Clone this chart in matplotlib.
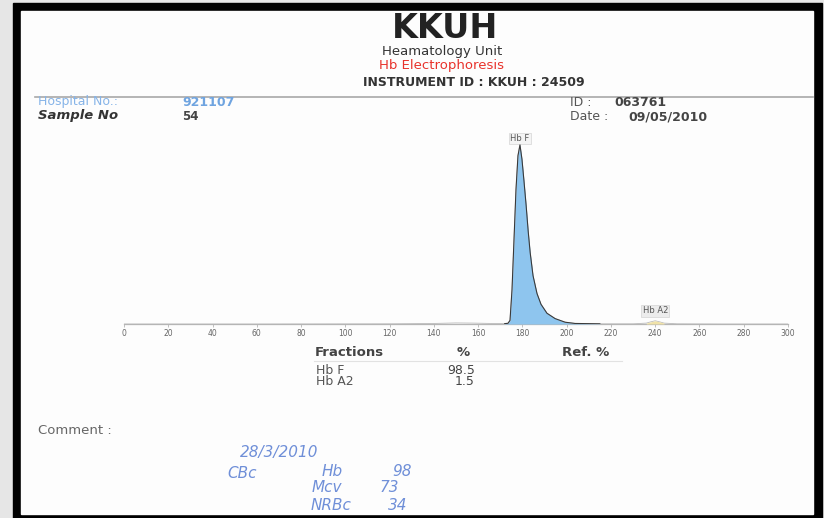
import matplotlib.pyplot as plt
from matplotlib.patches import Rectangle

# Electrophoresis trace (migration position vs. relative signal)
migration = [0, 60, 120, 140, 150, 158, 166, 172, 173.5, 174.4, 175.3, 176.2,
             177.1, 178.0, 178.9, 179.8, 180.7, 181.7, 182.6, 183.5, 184.8,
             186.6, 188.4, 191.1, 194.8, 199.3, 203.8, 215, 230, 236, 238,
             240, 242, 244, 250, 270, 300]
signal = [0, 0, 0.1, 0.3, 0.6, 0.5, 0.3, 0.2, 0.4, 2, 19, 47,
          75, 94, 100, 92, 80, 66, 52, 40, 27,
          17, 11, 6, 3, 1, 0.3, 0.1, 0.1, 0.5, 1.2,
          1.8, 1.2, 0.5, 0.1, 0, 0]
xticks = list(range(0, 301, 20))

# Fraction results
fractions = ["Hb F", "Hb A2"]
percents = [98.5, 1.5]
peak_pos = [178.9, 240]

# Header / patient fields
title = "KKUH"
unit = "Heamatology Unit"
test_name = "Hb Electrophoresis"
instrument = "INSTRUMENT ID : KKUH : 24509"
hospital_no = "921107"
sample_no = "54"
sample_id = "063761"
sample_date = "09/05/2010"

# handwritten notes, one entry per word
note_words = ["28/3/2010", "CBc", "Hb", "98", "Mcv", "73", "NRBc", "34"]

W, H = 824, 518
fig = plt.figure(figsize=(W / 100, H / 100), dpi=100, facecolor="#e6e6e6")
plt.rcParams["font.family"] = "DejaVu Sans"

# page layer in pixel coordinates
bg = fig.add_axes([0, 0, 1, 1])
bg.set_xlim(0, W)
bg.set_ylim(H, 0)
bg.axis("off")
bg.add_patch(Rectangle((13, 3), 809, 515, color="black", zorder=0))
bg.add_patch(Rectangle((21, 11), 792, 503, color="#fdfdfd", zorder=1))

dark = "#333333"
bg.text(445, 29, title, ha="center", va="center", fontsize=24, fontweight="bold", color="#222222")
bg.text(442, 51, unit, ha="center", va="center", fontsize=9.5, color=dark)
bg.text(442, 65, test_name, ha="center", va="center", fontsize=9.5, color="#e8322b")
bg.text(474, 82, instrument, ha="center", va="center", fontsize=9, fontweight="bold", color=dark)
bg.plot([35, 813], [97, 97], color="#a8a8a8", lw=1.2)

bg.text(38, 102, "Hospital No.:", va="center", fontsize=9, color="#86b4e8")
bg.text(182, 102, hospital_no, va="center", fontsize=9, fontweight="bold", color="#6fa4e0")
bg.text(38, 115, "Sample No", va="center", fontsize=9.5, fontweight="bold", fontstyle="italic", color=dark)
bg.text(182, 116, sample_no, va="center", fontsize=8.5, fontweight="bold", color="#444444")
bg.text(570, 103, "ID :", va="center", fontsize=9, color="#555555")
bg.text(614, 103, sample_id, va="center", fontsize=9, fontweight="bold", color="#444444")
bg.text(570, 117, "Date :", va="center", fontsize=9, color="#555555")
bg.text(628, 117, sample_date, va="center", fontsize=9, fontweight="bold", color="#444444")

# fractions table
bg.text(315, 353, "Fractions", va="center", fontsize=9.5, fontweight="bold", color="#444444")
bg.text(457, 353, "%", va="center", fontsize=9.5, fontweight="bold", color="#444444")
bg.text(562, 353, "Ref. %", va="center", fontsize=9.5, fontweight="bold", color="#444444")
bg.plot([314, 622], [361, 361], color="#e2e2e2", lw=0.8)
for i, (name, pct) in enumerate(zip(fractions, percents)):
    y = 370 + i * 11.5
    bg.text(316, y, name, va="center", fontsize=9, color="#555555")
    bg.text(475, y, f"{pct:.1f}", ha="right", va="center", fontsize=9, color="#444444")

bg.text(38, 430, "Comment :", va="center", fontsize=9.5, color="#666666")

# handwritten notes
note_xy = [(240, 452), (227, 473), (322, 472), (392, 472),
           (312, 488), (380, 488), (311, 506), (388, 506)]
for (x, y), s in zip(note_xy, note_words):
    bg.text(x, y, s, va="center", fontsize=11, fontstyle="italic", fontweight="light",
            color="#6f8fd8")

# electropherogram
ax = fig.add_axes([124 / W, (H - 324) / H, 664 / W, 197 / H])
ax.set_xlim(0, 300)
ax.set_ylim(0, 110)
ax.patch.set_alpha(0)
for s in ["top", "right", "left"]:
    ax.spines[s].set_visible(False)
ax.spines["bottom"].set_color("#b5b5b5")
ax.spines["bottom"].set_linewidth(0.9)
ax.set_yticks([])
ax.set_xticks(xticks)
ax.tick_params(axis="x", length=2, width=0.6, color="#b5b5b5", labelsize=5.5,
               labelcolor="#666666", pad=1.5)

ax.plot(migration, signal, color="#bbbbbb", lw=0.6, zorder=2)
ax.fill_between(migration, signal, where=[170 <= m <= 215 for m in migration],
                color="#8ec5ee", zorder=3, lw=0)
ax.fill_between(migration, signal, where=[234 <= m <= 246 for m in migration],
                color="#f0e2a8", zorder=3, lw=0)
hbf = [(m, s) for m, s in zip(migration, signal) if 170 <= m <= 215]
ax.plot([p[0] for p in hbf], [p[1] for p in hbf], color="#3a3a3a", lw=0.8, zorder=4)

ax.text(peak_pos[0], 103.5, fractions[0], ha="center", va="center", fontsize=6,
        color="#555555", bbox=dict(fc="#f4f4f4", ec="#cccccc", lw=0.4, pad=0.8))
ax.text(peak_pos[1], 7.3, fractions[1], ha="center", va="center", fontsize=6,
        color="#555555", bbox=dict(fc="#ececec", ec="#cccccc", lw=0.4, pad=0.8))

fig.savefig("out.png", dpi=100, facecolor=fig.get_facecolor())
